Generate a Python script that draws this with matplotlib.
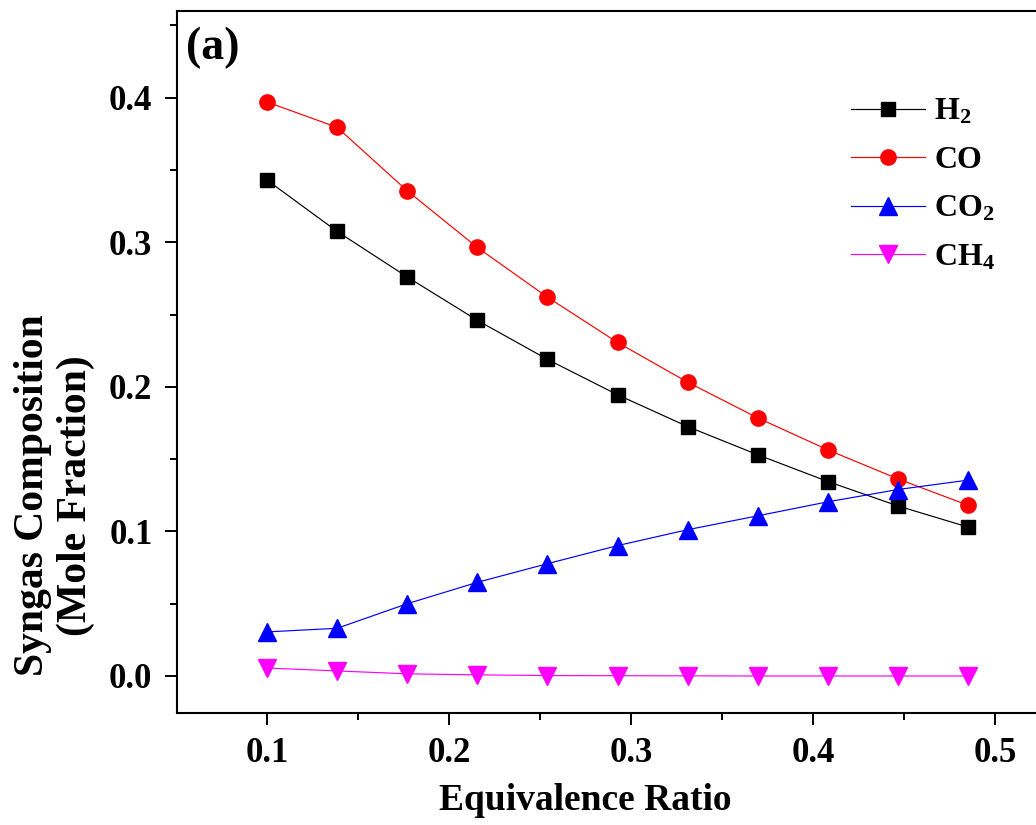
import numpy as np
import matplotlib
matplotlib.use("Agg")
import matplotlib.pyplot as plt

# equivalence ratio values (11 cases)
er = [0.100, 0.1385, 0.177, 0.2155, 0.254, 0.2925, 0.331, 0.3695, 0.408, 0.4465, 0.485]

# syngas composition (mole fraction)
h2 = [0.343, 0.3075, 0.276, 0.246, 0.219, 0.1945, 0.1725, 0.153, 0.1345, 0.1176, 0.103]
co = [0.397, 0.3795, 0.3356, 0.2964, 0.262, 0.2307, 0.2032, 0.1785, 0.1564, 0.1363, 0.1181]
co2 = [0.0305, 0.033, 0.050, 0.0648, 0.0777, 0.0902, 0.1012, 0.1108, 0.1205, 0.1290, 0.1355]
ch4 = [0.0055, 0.0035, 0.0015, 0.0008, 0.0003, 0.0002, 0.0001, 0.0, 0.0, 0.0, 0.0]

series_names = [r"H$_\mathbf{2}$", "CO", r"CO$_\mathbf{2}$", r"CH$_\mathbf{4}$"]

plt.rcParams['font.family'] = ['Liberation Serif', 'DejaVu Serif']
plt.rcParams['font.weight'] = 'bold'
plt.rcParams['mathtext.fontset'] = 'custom'
plt.rcParams['mathtext.rm'] = 'Liberation Serif:bold'
plt.rcParams['mathtext.bf'] = 'Liberation Serif:bold'
plt.rcParams['mathtext.default'] = 'bf'

fig = plt.figure(figsize=(10.36, 8.25), dpi=100)
ax = fig.add_axes([0.1706, 0.1361, 0.85, 0.8506])

ax.plot(er, h2, color='black', lw=0.85, marker='s', ms=10, label=series_names[0])
ax.plot(er, co, color='red', lw=0.85, marker='o', ms=11, label=series_names[1])
ax.plot(er, co2, color='blue', lw=0.85, marker='^', ms=13, label=series_names[2])
ax.plot(er, ch4, color='magenta', lw=0.85, marker='v', ms=13, label=series_names[3])

ax.set_xlim(0.0504, 0.534)
ax.set_ylim(-0.0254, 0.460)
ax.set_xticks([0.1, 0.2, 0.3, 0.4, 0.5])
ax.set_xticks([0.15, 0.25, 0.35, 0.45], minor=True)
ax.set_yticks([0.0, 0.1, 0.2, 0.3, 0.4])
ax.set_yticks([0.05, 0.15, 0.25, 0.35, 0.45], minor=True)
ax.tick_params(which='major', direction='out', length=8.5, width=1.4, labelsize=25, pad=9)
ax.tick_params(which='minor', direction='out', length=5, width=1.4)
for s in ax.spines.values():
    s.set_linewidth(1.5)

ax.set_xlabel("Equivalence Ratio", fontsize=27, fontweight='bold')
ax.xaxis.set_label_coords(0.464, -0.10)
ax.set_ylabel("Syngas Composition\n(Mole Fraction)", fontsize=30, fontweight='bold',
              linespacing=1.15)
ax.yaxis.set_label_coords(-0.093, 0.31)

ax.text(0.01, 0.978, "(a)", transform=ax.transAxes, fontsize=33, fontweight='bold',
        va='top', ha='left')

leg = ax.legend(loc='upper right', bbox_to_anchor=(0.962, 0.918), frameon=False,
                fontsize=23, handlelength=2.3, handletextpad=0.3, labelspacing=0.6)

fig.savefig("out.png", dpi=100)
